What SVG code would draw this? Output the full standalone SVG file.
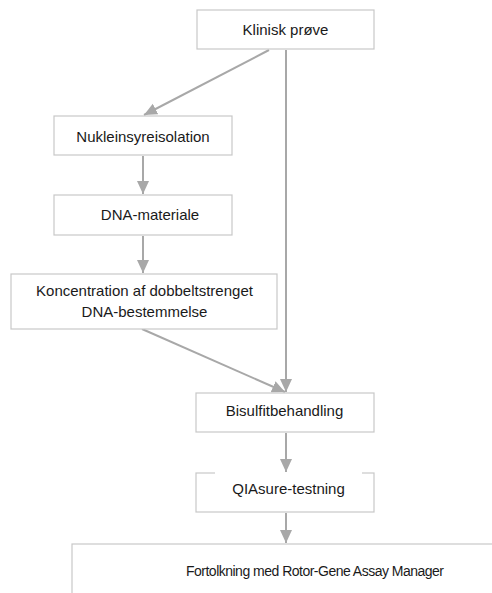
<svg xmlns="http://www.w3.org/2000/svg" width="492" height="593" viewBox="0 0 492 593">
<defs>
<style>
.box{fill:#fff;stroke:#c8c8c8;stroke-width:1.2}
.t{font-family:"Liberation Sans",Arial,sans-serif;font-size:15px;fill:#1a1a1a;text-anchor:middle}
.c{stroke:#a8a8a8;stroke-width:2;fill:none;marker-end:url(#ah)}
</style>
<marker id="ah" markerUnits="userSpaceOnUse" markerWidth="14" markerHeight="14" viewBox="0 0 14 14" refX="13" refY="7" orient="auto">
<path d="M0,1 L13,7 L0,13 Z" fill="#a8a8a8"/>
</marker>
</defs>
<rect width="492" height="593" fill="#fff"/>
<g id="connectors">
<line class="c" x1="269" y1="50" x2="144" y2="115"/>
<line class="c" x1="286" y1="50" x2="286" y2="392"/>
<line class="c" x1="143" y1="156" x2="143" y2="194"/>
<line class="c" x1="143" y1="236" x2="143" y2="273"/>
<line class="c" x1="142" y1="329" x2="285" y2="392"/>
<line class="c" x1="286" y1="433" x2="286" y2="472"/>
<line class="c" x1="286" y1="513" x2="286" y2="543"/>
</g>
<g id="n1">
<rect class="box" x="197" y="10" width="177" height="39"/>
<text class="t" x="285.5" y="35">Klinisk prøve</text>
</g>
<g id="n2">
<rect class="box" x="54" y="116" width="178" height="39"/>
<text class="t" x="143" y="142">Nukleinsyreisolation</text>
</g>
<g id="n3">
<rect class="box" x="54" y="195" width="178" height="40"/>
<text class="t" x="150" y="220">DNA-materiale</text>
</g>
<g id="n4">
<rect class="box" x="11" y="274" width="266" height="55"/>
<text class="t" x="144.5" y="296">Koncentration af dobbeltstrenget</text>
<text class="t" x="144.5" y="317">DNA-bestemmelse</text>
</g>
<g id="n5">
<rect class="box" x="196" y="393" width="178" height="39"/>
<text class="t" x="284.5" y="416">Bisulfitbehandling</text>
</g>
<g id="n6">
<rect class="box" x="196" y="473" width="178" height="39"/>
<line x1="215" y1="473" x2="362" y2="473" stroke="#fff" stroke-width="2"/>
<text class="t" x="288.5" y="494">QIAsure-testning</text>
</g>
<g id="n7">
<rect class="box" x="72" y="544" width="440" height="80"/>
<text class="t" x="315" y="576" style="font-size:14px" textLength="258" lengthAdjust="spacing">Fortolkning med Rotor-Gene Assay Manager</text>
</g>
</svg>
